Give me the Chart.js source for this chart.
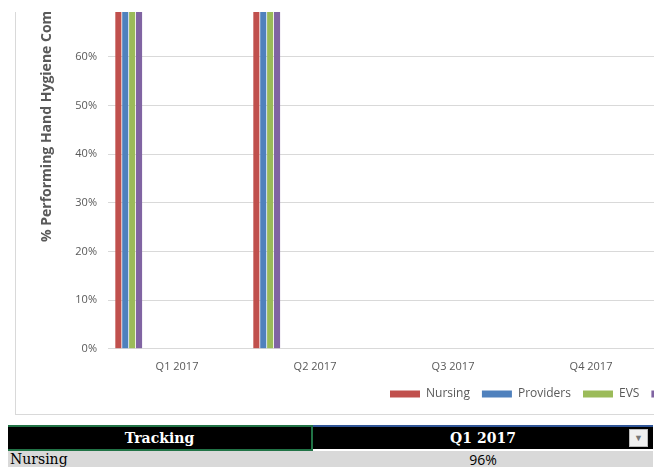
<!DOCTYPE html>
<html>
<head>
<meta charset="utf-8">
<script src="https://cdn.jsdelivr.net/npm/chart.js@4/dist/chart.umd.min.js"></script>
<style>
  body { margin: 0; background: #fff; width: 662px; height: 467px; overflow: hidden; position: relative; font-family: "Open Sans", sans-serif; }
  #frame { position: absolute; left: 15px; top: 12px; width: 638px; height: 402px; overflow: hidden; border-left: 1px solid #d9d9d9; border-bottom: 1px solid #d9d9d9; }
  #frame canvas { position: absolute; left: 0; top: -18px; }
  .hdr { position: absolute; top: 427px; height: 22px; background: #000; color: #fff; font: bold 14px "DejaVu Serif", serif; line-height: 22px; text-align: center; }
  #h1 { left: 8px; width: 303px; border-top: 2px solid #217346; border-bottom: 2px solid #217346; border-right: 2px solid #217346; top: 425px; }
  #h2 { left: 313px; width: 340px; border-top: 2px solid #2f5597; top: 425px; }
  #drop { position: absolute; left: 629px; top: 429px; width: 17px; height: 16px; background: #f0f0f0; border: 1px solid #bbb; color: #777; font: 9px sans-serif; line-height: 16px; text-align: center; }
  .row { position: absolute; top: 451px; height: 17px; background: #d9d9d9; font-size: 14px; line-height: 17px; color: #000; }
  #r1 { left: 8px; width: 305px; font-family: "DejaVu Serif", serif; padding-left: 2px; box-sizing: border-box; }
  #r2 { left: 313px; width: 340px; text-align: center; font-family: "Open Sans", sans-serif; }
</style>
</head>
<body>
<div id="frame"><canvas id="chart"></canvas></div>
<div class="hdr" id="h1">Tracking</div>
<div class="hdr" id="h2">Q1 2017</div>
<div id="drop">&#9660;</div>
<div class="row" id="r1">Nursing</div>
<div class="row" id="r2">96%</div>
<script>
const quarters = ['Q1 2017', 'Q2 2017', 'Q3 2017', 'Q4 2017'];
const seriesNames = ['Nursing', 'Providers', 'EVS', 'Other'];
const seriesColors = ['#c0504d', '#4f81bd', '#9bbb59', '#8064a2'];
const nursing   = [0.96, 0.95, null, null];
const providers = [0.90, 0.92, null, null];
const evs       = [0.93, 0.94, null, null];
const other     = [0.88, 0.90, null, null];
// Excel keeps slots for the series that have no data yet
const emptySeriesCount = 14;

const yMax = 0.693;
const axisTitle = '% Performing Hand Hygiene Compliance';
const grey = '#595959';

const W = 716, H = 416;

const values = [nursing, providers, evs, other];
const datasets = values.map((v, i) => ({
    label: seriesNames[i],
    data: v,
    backgroundColor: seriesColors[i],
    borderWidth: 0
}));
for (let i = 0; i < emptySeriesCount; i++) {
    datasets.push({ label: '', data: quarters.map(() => null), backgroundColor: '#ccc' });
}

// vertical axis title, drawn by hand so it can start low like in Excel
const yTitle = {
    id: 'yTitle',
    afterDraw(chart) {
        const c = chart.ctx;
        c.save();
        c.translate(31, 248);
        c.rotate(-Math.PI / 2);
        c.font = 'bold 14px "Open Sans"';
        c.fillStyle = grey;
        c.textAlign = 'left';
        c.textBaseline = 'middle';
        c.fillText(axisTitle, 0, 0);
        c.restore();
    }
};

const canvas = document.getElementById('chart');
canvas.width = W;
canvas.height = H;
canvas.style.width = W + 'px';
canvas.style.height = H + 'px';

new Chart(canvas.getContext('2d'), {
    type: 'bar',
    data: { labels: quarters, datasets: datasets },
    options: {
        responsive: false,
        animation: false,
        layout: { padding: 0 },
        datasets: { bar: { categoryPercentage: 0.9, barPercentage: 0.88 } },
        plugins: {
            tooltip: { enabled: false },
            legend: {
                position: 'bottom',
                align: 'end',
                labels: {
                    boxWidth: 30,
                    boxHeight: 7,
                    color: grey,
                    font: { family: 'Open Sans', size: 12 },
                    padding: 12,
                    filter: item => item.text !== ''
                }
            }
        },
        scales: {
            x: {
                grid: { display: false },
                border: { display: false },
                ticks: { color: grey, font: { family: 'Open Sans', size: 11 }, padding: 3 }
            },
            y: {
                min: 0,
                max: yMax,
                afterFit: s => { s.width = 92; },
                afterBuildTicks: s => {
                    s.ticks = s.ticks.filter(t => Math.abs(t.value * 10 - Math.round(t.value * 10)) < 1e-6);
                },
                grid: { color: '#d9d9d9', drawTicks: false },
                border: { display: false },
                ticks: {
                    stepSize: 0.1,
                    padding: 11,
                    color: grey,
                    font: { family: 'Open Sans', size: 11 },
                    callback: v => Math.round(v * 100) + '%'
                }
            },
            // blank strip on the right, the plot stops before the legend does
            yRight: {
                position: 'right',
                afterFit: s => { s.width = W - 644; },
                grid: { display: false },
                border: { display: false },
                ticks: { display: false }
            }
        }
    },
    plugins: [yTitle]
});
</script>
</body>
</html>
